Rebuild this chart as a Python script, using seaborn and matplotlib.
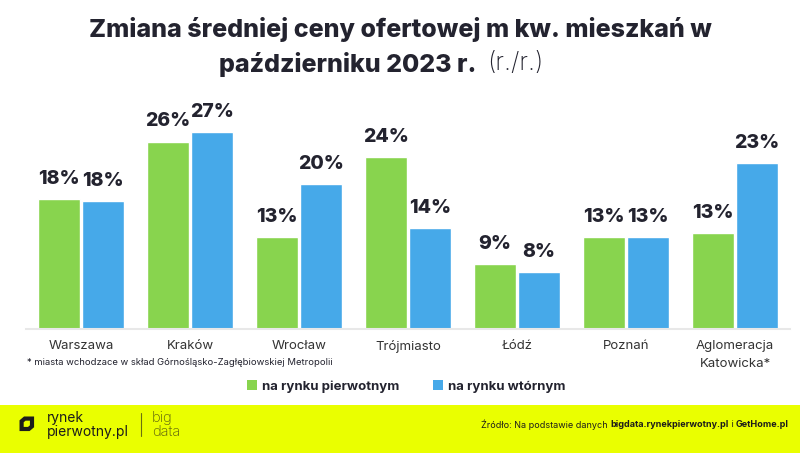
import pandas as pd
import matplotlib.pyplot as plt
import seaborn as sns
from matplotlib.patches import Patch, Rectangle, Polygon
from matplotlib.lines import Line2D

# dane (r./r., %)
miasta = ['Warszawa', 'Kraków', 'Wrocław', 'Trójmiasto', 'Łódź', 'Poznań',
          'Aglomeracja\nKatowicka*']
pierwotny = [17.8, 25.7, 12.6, 23.6, 8.9, 12.6, 13.2]
wtorny = [17.6, 27.0, 19.9, 13.8, 7.8, 12.6, 22.8]
rynki = ['na rynku pierwotnym', 'na rynku wtórnym']

df = pd.DataFrame({
    'miasto': miasta * 2,
    'rynek': [rynki[0]] * len(miasta) + [rynki[1]] * len(miasta),
    'zmiana': pierwotny + wtorny,
})

kolory = {rynki[0]: '#88d44e', rynki[1]: '#46a9e9'}
ciemny = '#23232f'

sns.set_theme(style='white')
plt.rcParams['font.family'] = ['Inter', 'DejaVu Sans']

fig = plt.figure(figsize=(8, 4.53), dpi=100)
ax = fig.add_axes([0.033, 0.2737, 0.954, 0.483])

sns.barplot(data=df, x='miasto', y='zmiana', hue='rynek', palette=kolory,
            width=0.81, gap=0.05, legend=False, ax=ax, saturation=1)

for kont in ax.containers:
    ax.bar_label(kont, labels=[f'{b.get_height():.0f}%' for b in kont],
                 padding=8, fontsize=14, fontweight='heavy', color=ciemny)

ax.set_xlim(-0.5, 6.5)
ax.set_ylim(0, 30)
ax.set_xlabel('')
ax.set_ylabel('')
ax.set_yticks([])
ax.tick_params(axis='x', length=0, pad=8, labelsize=9.5, labelcolor='#333333')
for t in ax.get_xticklabels():
    t.set_linespacing(1.6)
for s in ['top', 'left', 'right']:
    ax.spines[s].set_visible(False)
ax.spines['bottom'].set_color('#e8e8e8')
ax.spines['bottom'].set_linewidth(1.5)

# tytuł
fig.text(0.5, 0.935, 'Zmiana średniej ceny ofertowej m kw. mieszkań w',
         ha='center', va='center', fontsize=18, fontweight='heavy', color=ciemny)
fig.text(0.596, 0.857, 'październiku 2023 r.', ha='right', va='center',
         fontsize=18, fontweight='heavy', color=ciemny)
fig.text(0.609, 0.859, '(r./r.)', ha='left', va='center',
         fontsize=18, fontweight='light', color=ciemny)

# przypis
fig.text(0.034, 0.199, '* miasta wchodzace w skład Górnośląsko-Zagłębiowskiej Metropolii',
         ha='left', va='center', fontsize=6.8, color=ciemny)

# legenda
uchwyty = [Patch(facecolor=kolory[r], edgecolor='none', label=r) for r in rynki]
leg = fig.legend(handles=uchwyty, loc='center', bbox_to_anchor=(0.508, 0.147),
                 ncol=2, frameon=False, handlelength=0.7, handleheight=0.7,
                 handletextpad=0.4, columnspacing=2.6, fontsize=9.5)
for t in leg.get_texts():
    t.set_fontweight('bold')
    t.set_color(ciemny)

# stopka
fig.patches.append(Rectangle((0, 0), 1, 48 / 453, transform=fig.transFigure,
                             facecolor='#eaff00', edgecolor='none', zorder=0))
fig.patches.append(Polygon([(0.027, 0.053), (0.027, 0.070), (0.031, 0.076),
                            (0.040, 0.076), (0.040, 0.059), (0.036, 0.053)],
                           closed=True, transform=fig.transFigure, fill=False,
                           edgecolor='#1d1d1b', linewidth=3, joinstyle='miter', zorder=2))
fig.text(0.059, 0.078, 'rynek', ha='left', va='center', fontsize=10,
         color='#1d1d1b')
fig.text(0.059, 0.047, 'pierwotny.pl', ha='left', va='center', fontsize=10,
         color='#1d1d1b')
fig.lines.append(Line2D([0.176, 0.176], [0.038, 0.088], transform=fig.transFigure,
                        color='#6a7010', linewidth=0.8))
fig.text(0.19, 0.078, 'big', ha='left', va='center', fontsize=10.5,
         fontweight='light', color='#55590f')
fig.text(0.19, 0.047, 'data', ha='left', va='center', fontsize=10.5,
         fontweight='light', color='#55590f')

# źródło: składane od prawej
czesci = [('GetHome.pl', 'bold'), (' i ', 'normal'),
          ('bigdata.rynekpierwotny.pl', 'bold'),
          ('Źródło: Na podstawie danych ', 'normal')]
rend = fig.canvas.get_renderer()
x = 0.986
for tekst, waga in czesci:
    t = fig.text(x, 0.062, tekst, ha='right', va='center', fontsize=6.5,
                 fontweight=waga, color='#1d1d1b')
    x -= t.get_window_extent(rend).width / fig.bbox.width

fig.savefig('out.png', dpi=100, facecolor='white')
